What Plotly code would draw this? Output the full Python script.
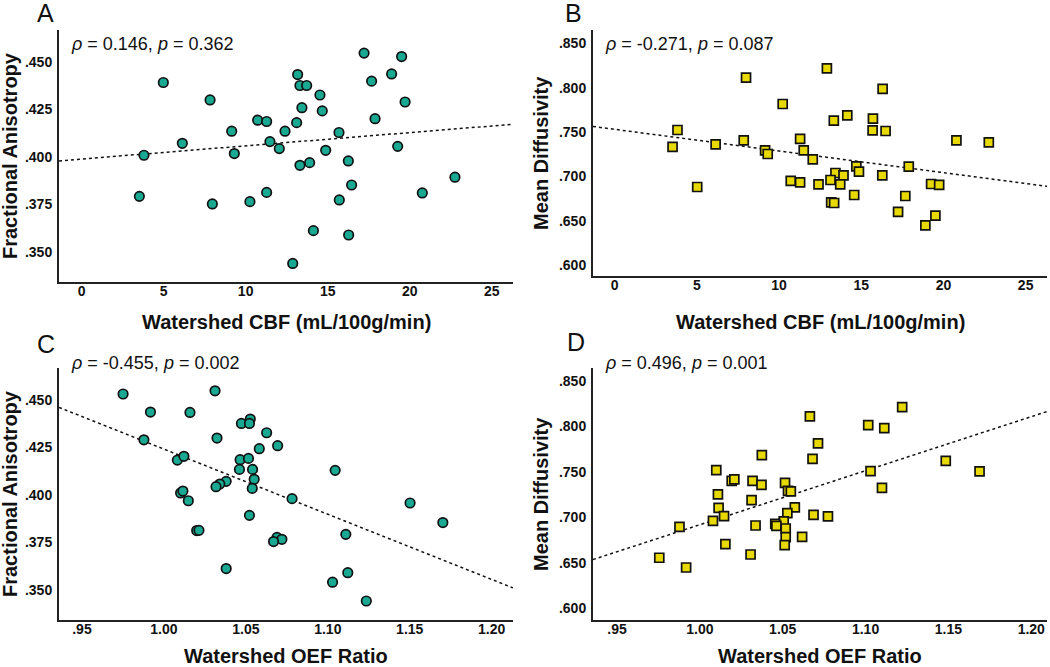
import numpy as np
import plotly.graph_objects as go

# ---------------- data ----------------
# Panel A: Watershed CBF vs Fractional Anisotropy
cbf_A = [17.22, 19.51, 18.90, 13.17, 4.98, 17.68, 13.31, 13.72, 7.83, 14.53,
         19.72, 13.43, 14.67, 10.73, 11.28, 13.11, 17.89, 9.15, 12.40, 15.69,
         11.48, 6.14, 19.27, 12.05, 14.88, 3.80, 9.31, 16.26, 13.90, 13.31,
         22.76, 16.46, 3.52, 11.28, 20.77, 15.71, 10.26, 7.97, 14.13, 16.28,
         12.87]
fa_A = [.4548, .4530, .4438, .4435, .4393, .4400, .4377, .4377, .4301, .4327,
        .4290, .4260, .4243, .4194, .4187, .4181, .4202, .4136, .4136, .4129,
        .4081, .4072, .4056, .4044, .4035, .4009, .4018, .3979, .3970, .3956,
        .3893, .3852, .3792, .3813, .3810, .3773, .3764, .3752, .3611, .3588,
        .3438]

# Panel B: Watershed CBF vs Mean Diffusivity
cbf_B = [12.91, 7.99, 16.30, 10.22, 14.15, 13.33, 15.71, 3.82, 15.69, 16.48,
         3.52, 6.14, 7.85, 11.28, 20.79, 22.76, 9.15, 11.50, 9.31, 12.05,
         14.70, 17.89, 14.86, 13.43, 13.92, 16.28, 13.13, 10.71, 11.28, 12.40,
         13.72, 19.25, 19.74, 5.02, 14.57, 17.68, 13.17, 13.35, 17.24, 19.51,
         18.90]
md_B = [.8218, .8113, .7986, .7817, .7689, .7629, .7652, .7524, .7520, .7513,
        .7333, .7363, .7408, .7423, .7408, .7385, .7295, .7295, .7254, .7194,
        .7115, .7111, .7055, .7040, .7013, .7013, .6961, .6950, .6935, .6912,
        .6912, .6916, .6905, .6882, .6792, .6781, .6709, .6702, .6601, .6559,
        .6450]

# Panel C: Watershed OEF ratio vs Fractional Anisotropy
oef_C = [.9751, 1.0312, .9918, 1.0159, 1.0473, 1.0527, 1.0522, 1.0627, .9878, 1.0324,
         1.0694, 1.0582, 1.0082, 1.0122, 1.0465, 1.0516, 1.0461, 1.0541, 1.1045, 1.0551,
         1.0380, 1.0341, 1.0318, 1.0539, 1.0102, 1.0116, 1.0149, 1.0782, 1.1502, 1.0522,
         1.1702, 1.0200, 1.0214, 1.1110, 1.0690, 1.0720, 1.0669, 1.0380, 1.1122, 1.1029,
         1.1235]
fa_C = [.4530, .4547, .4435, .4433, .4375, .4398, .4375, .4326, .4289, .4298,
        .4258, .4242, .4182, .4202, .4184, .4191, .4133, .4133, .4128, .4081,
        .4070, .4056, .4042, .4033, .4009, .4019, .3968, .3979, .3956, .3891,
        .3853, .3811, .3812, .3791, .3775, .3765, .3753, .3611, .3589, .3539,
        .3440]

# Panel D: Watershed OEF ratio vs Mean Diffusivity
oef_D = [1.1221, 1.0664, 1.1016, 1.1113, 1.0713, 1.0374, 1.0680, 1.1484, 1.0099, 1.1030,
         1.1688, 1.0192, 1.0208, 1.0318, 1.0372, 1.0514, 1.1099, 1.0109, 1.0532, 1.0549,
         1.0312, 1.0113, 1.0573, 1.0528, 1.0146, 1.0079, 1.0686, 1.0773, 1.0506, 1.0455,
         1.0462, .9877, 1.0336, 1.0518, 1.0518, 1.0617, 1.0154, 1.0512, 1.0306, .9755,
         .9917]
md_D = [.8210, .8108, .8012, .7979, .7811, .7683, .7642, .7620, .7518, .7507,
        .7503, .7400, .7415, .7400, .7356, .7378, .7323, .7250, .7290, .7283,
        .7188, .7103, .7107, .7045, .7012, .6960, .7026, .7008, .6953, .6927,
        .6905, .6894, .6909, .6876, .6781, .6784, .6704, .6693, .6590, .6554,
        .6447]

stats = ["0.146", "0.362", "-0.271", "0.087", "-0.455", "0.002", "0.496", "0.001"]

cbf_ticks = [0, 5, 10, 15, 20, 25]
cbf_ticklabels = ["0", "5", "10", "15", "20", "25"]
oef_ticks = [0.95, 1.00, 1.05, 1.10, 1.15, 1.20]
oef_ticklabels = [".95", "1.00", "1.05", "1.10", "1.15", "1.20"]
fa_ticks = [0.350, 0.375, 0.400, 0.425, 0.450]
fa_ticklabels = [".350", ".375", ".400", ".425", ".450"]
md_ticks = [0.600, 0.650, 0.700, 0.750, 0.800, 0.850]
md_ticklabels = [".600", ".650", ".700", ".750", ".800", ".850"]

# ---------------- style ----------------
W, H = 1050, 667
FONT = "Liberation Sans, Arial, sans-serif"
TEAL = "#19a892"
YELLOW = "#e8d900"
AX = "#222222"
TXT = "#111111"

def px_x(p):
    return p / W

def px_y(p):
    return 1 - p / H

def bold(labels):
    return [f"<b>{s}</b>" for s in labels]

# plot rectangles in pixels: (left, right, top, bottom)
rects = {
    "A": (59, 513, 30, 282),
    "B": (593, 1047, 30, 276),
    "C": (59, 513, 368, 620),
    "D": (593, 1047, 368, 620),
}
# panel letter positions (left x, centre y) and stats centre y, y-title centre x
letter_pos = {"A": (35, 13), "B": (563, 13), "C": (35, 344), "D": (565, 342)}
stats_y = {"A": 44, "B": 44, "C": 363, "D": 363}
ytitle_x = {"A": 10, "B": 541, "C": 10, "D": 541}
xtitle_y = {"A": 322, "B": 322, "C": 656, "D": 656}

panels = [
    ("A", cbf_A, fa_A, "circle", TEAL, (-1.38, 26.3), (0.334, 0.467),
     cbf_ticks, cbf_ticklabels, fa_ticks, fa_ticklabels,
     "Watershed CBF (mL/100g/min)", "Fractional Anisotropy", stats[0], stats[1]),
    ("B", cbf_B, md_B, "square", YELLOW, (-1.32, 26.3), (0.588, 0.865),
     cbf_ticks, cbf_ticklabels, md_ticks, md_ticklabels,
     "Watershed CBF (mL/100g/min)", "Mean Diffusivity", stats[2], stats[3]),
    ("C", oef_C, fa_C, "circle", TEAL, (0.936, 1.213), (0.334, 0.4667),
     oef_ticks, oef_ticklabels, fa_ticks, fa_ticklabels,
     "Watershed OEF Ratio", "Fractional Anisotropy", stats[4], stats[5]),
    ("D", oef_D, md_D, "square", YELLOW, (0.9355, 1.2095), (0.587, 0.864),
     oef_ticks, oef_ticklabels, md_ticks, md_ticklabels,
     "Watershed OEF Ratio", "Mean Diffusivity", stats[6], stats[7]),
]

fig = go.Figure()
annotations = []
layout = {}

for i, (name, xs, ys, sym, col, xr, yr, xt, xtl, yt, ytl, xtitle, ytitle, rho, pv) in enumerate(panels):
    n = "" if i == 0 else str(i + 1)
    xa, ya = "x" + n, "y" + n
    l, r, t, b = rects[name]
    layout["xaxis" + n] = dict(
        domain=[px_x(l), px_x(r)], range=list(xr), anchor=ya,
        tickvals=xt, ticktext=bold(xtl), showgrid=False, zeroline=False,
        showline=True, linecolor=AX, linewidth=2, ticks="", ticklen=0,
        tickfont=dict(family=FONT, size=14, color=TXT),
        ticklabelstandoff=-5,
    )
    layout["yaxis" + n] = dict(
        domain=[px_y(b), px_y(t)], range=list(yr), anchor=xa,
        tickvals=yt, ticktext=bold(ytl), showgrid=False, zeroline=False,
        showline=True, linecolor=AX, linewidth=2, ticks="",
        tickfont=dict(family=FONT, size=14, color=TXT),
        ticklabelstandoff=2,
    )
    # regression line (OLS fit of the data)
    xarr = np.array(xs)
    yarr = np.array(ys)
    slope, icpt = np.polyfit(xarr, yarr, 1)
    lx = np.array(xr)
    fig.add_trace(go.Scatter(
        x=lx, y=icpt + slope * lx, mode="lines", xaxis=xa, yaxis=ya,
        line=dict(color=TXT, width=1.5, dash="dot"),
        hoverinfo="skip", showlegend=False,
    ))
    fig.add_trace(go.Scatter(
        x=xs, y=ys, mode="markers", xaxis=xa, yaxis=ya,
        marker=dict(symbol=sym, size=9.5 if sym == "circle" else 9,
                    color=col, line=dict(color=TXT, width=1.7)),
        showlegend=False,
    ))
    # panel letter
    lx0, ly0 = letter_pos[name]
    annotations.append(dict(
        text=name, x=px_x(lx0), y=px_y(ly0), xref="paper", yref="paper",
        xanchor="left", yanchor="middle", showarrow=False,
        font=dict(family=FONT, size=25, color=TXT),
    ))
    # stats
    annotations.append(dict(
        text=f"<i>ρ</i> = {rho}, <i>p</i> = {pv}",
        x=px_x(l + 10), y=px_y(stats_y[name]), xref="paper", yref="paper",
        xanchor="left", yanchor="middle", showarrow=False,
        font=dict(family=FONT, size=18, color=TXT),
    ))
    # x title
    annotations.append(dict(
        text=f"<b>{xtitle}</b>", x=px_x((l + r) / 2), y=px_y(xtitle_y[name]),
        xref="paper", yref="paper", xanchor="center", yanchor="middle",
        showarrow=False, font=dict(family=FONT, size=20, color=TXT),
    ))
    # y title
    annotations.append(dict(
        text=f"<b>{ytitle}</b>", x=px_x(ytitle_x[name]), y=px_y((t + b) / 2),
        xref="paper", yref="paper", xanchor="center", yanchor="middle",
        textangle=-90, showarrow=False,
        font=dict(family=FONT, size=20, color=TXT),
    ))

fig.update_layout(
    width=W, height=H,
    margin=dict(l=0, r=0, t=0, b=0),
    paper_bgcolor="white", plot_bgcolor="white",
    annotations=annotations,
    showlegend=False,
    **layout,
)

fig.write_html(
    "out.html",
    config={"displayModeBar": False},
    post_script="document.body.style.margin='0';document.body.style.overflow='hidden';",
)
